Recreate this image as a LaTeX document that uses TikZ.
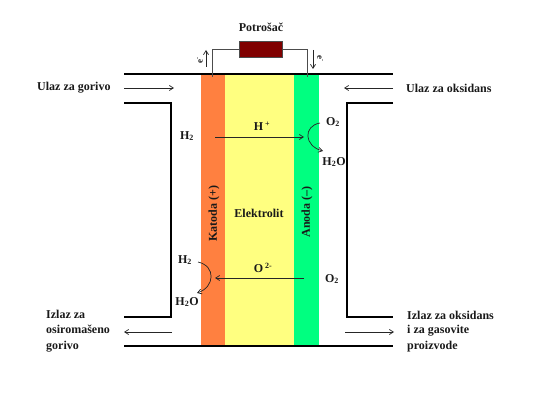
\documentclass[tikz,border=0pt]{standalone}
\usepackage{fontspec}
\setmainfont{Liberation Serif}
\usetikzlibrary{arrows.meta}
\definecolor{orangec}{RGB}{255,128,64}
\definecolor{yellowc}{RGB}{255,255,128}
\definecolor{greenc}{RGB}{0,255,128}
\definecolor{resc}{RGB}{128,0,0}
\tikzset{
  px/.style={x=1pt,y=-1pt},
  wall/.style={line width=2.7pt,black},
  flow/.style={line width=0.7pt,draw=black!85,-{Straight Barb[length=4pt,width=5pt]}},
  wire/.style={line width=0.8pt,draw=black!70},
  lab/.style={font=\fontsize{12}{14}\selectfont\bfseries,inner sep=0pt,text=black!90},
  leftlab/.style={lab,anchor=base west},
  small/.style={font=\fontsize{9}{10}\selectfont\bfseries},
}
\begin{document}
\begin{tikzpicture}[px]
\useasboundingbox (0,0) rectangle (550,420);
\fill[orangec] (201,74) rectangle (225,346);
\fill[yellowc] (225,74) rectangle (294,346);
\fill[greenc] (294,74) rectangle (319,346);
% walls
\coordinate (tl) at (124,74); \coordinate (tr) at (393,74);
\coordinate (bl) at (124,346); \coordinate (br) at (393,346);
\draw[wall] (tl) -- (tr);
\draw[wall] (bl) -- (br);
\draw[wall] (124,103) -- (171,103) -- (171,317) -- (124,317);
\draw[wall] (393,103) -- (347,103) -- (347,317) -- (393,317);
% load
\node[draw=black!70,fill=resc,line width=0.6pt,minimum width=43pt,minimum height=16pt,inner sep=0pt] (load) at (260.5,49) {};
\coordinate (wl) at (212,77); \coordinate (wr) at (307,77);
\draw[wire] (load.west) -| (wl);
\draw[wire] (load.east) -| (wr);
\node[lab] (potr) at (261,27) {Potrošač};
% electron arrows
\coordinate (ea1) at (206,67); \coordinate (ea2) at (206,50);
\coordinate (eb1) at (313,50); \coordinate (eb2) at (313,69);
\draw[flow] (ea1) -- (ea2);
\draw[flow] (eb1) -- (eb2);
\node[lab,small,rotate=90] (el) at (200,60) {e\textsuperscript{-}};
\node[lab,small,rotate=-90] (er) at (320,59) {e\textsuperscript{-}};
% flow arrows
\coordinate (a1) at (124,88); \coordinate (a2) at (174,88);
\coordinate (b1) at (393,88); \coordinate (b2) at (344,88);
\coordinate (c1) at (172,332); \coordinate (c2) at (124,332);
\coordinate (d1) at (345,332); \coordinate (d2) at (394,332);
\draw[flow] (a1) -- (a2);
\draw[flow] (b1) -- (b2);
\draw[flow] (c1) -- (c2);
\draw[flow] (d1) -- (d2);
% ions
\coordinate (h1) at (215,137); \coordinate (h2) at (304,137);
\coordinate (o1) at (304,278); \coordinate (o2) at (215,278);
\draw[flow] (h1) -- (h2);
\draw[flow] (o1) -- (o2);
\node[lab] (hp) at (262,126) {H\,\textsuperscript{+}};
\node[lab] (om) at (263,268) {O\,\textsuperscript{2-}};
% curves
\coordinate (q1) at (320,123); \coordinate (q2) at (323,151);
\coordinate (p1) at (198,262); \coordinate (p2) at (197,293);
\draw[flow] (q1) .. controls (303,126) and (304,146) .. (q2);
\draw[flow] (p1) .. controls (216,266) and (215,287) .. (p2);
% chem labels
\node[lab] (h2a) at (187,136) {H\textsubscript{2}};
\node[lab] (o2a) at (333,122) {O\textsubscript{2}};
\node[lab] (w1) at (334,162) {H\textsubscript{2}O};
\node[lab] (h2b) at (185,260) {H\textsubscript{2}};
\node[lab] (w2) at (187,302) {H\textsubscript{2}O};
\node[lab] (o2b) at (332,279) {O\textsubscript{2}};
% electrodes
\node[lab,rotate=90] (kat) at (214,213.5) {Katoda (+)};
\node[lab] (elk) at (259,213) {Elektrolit};
\node[lab,rotate=90] (ano) at (307,212) {Anoda (--)};
% side labels
\node[leftlab] (ul1) at (37,91) {Ulaz za gorivo};
\node[leftlab] (ul2) at (406,93) {Ulaz za oksidans};
\node[leftlab] (il1) at (46,318) {Izlaz za};
\node[leftlab] (il2) at (46,334) {osiromašeno};
\node[leftlab] (il3) at (46,349) {gorivo};
\node[leftlab] (ir1) at (407,319) {Izlaz za oksidans};
\node[leftlab] (ir2) at (407,334) {i za gasovite};
\node[leftlab] (ir3) at (407,349) {proizvode};
\end{tikzpicture}
\end{document}
